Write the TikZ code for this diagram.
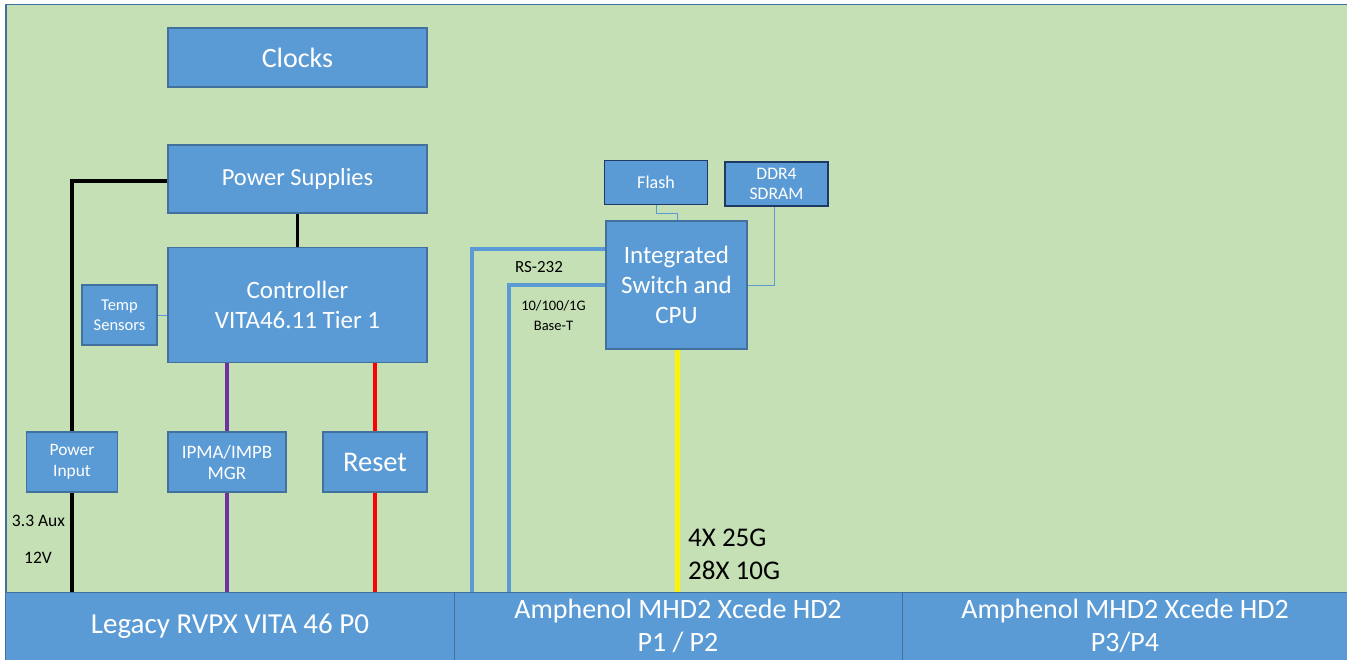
\documentclass[tikz,border=0pt]{standalone}
\usepackage{fontspec}
\setmainfont{Carlito}
\definecolor{bg}{HTML}{C5E0B4}
\definecolor{boxfill}{HTML}{5B9BD5}
\definecolor{boxline}{HTML}{41719C}
\definecolor{darkline}{HTML}{203864}
\definecolor{linkblue}{HTML}{5B9BD5}
\definecolor{ipurple}{HTML}{7030A0}
\newcommand\myfs[2]{\fontsize{#1}{#2}\selectfont}
\tikzset{
  box/.style={draw=boxline, line width=1.2pt, fill=boxfill, text=white, inner sep=0pt, align=center},
  darkbox/.style={box, draw=darkline},
  fs/.style 2 args={font=\myfs{#1}{#2}},
  thinlink/.style={draw=linkblue, line width=0.8pt},
  buslink/.style={draw=linkblue, line width=3.5pt},
  lbl/.style={text=black, inner sep=0pt}
}
\begin{document}
\begin{tikzpicture}[x=1pt,y=-1pt]
\useasboundingbox (0,0) rectangle (1347,660);
% background board
\node[draw=boxline, line width=1.5pt, fill=bg, inner sep=0pt, minimum width=1345pt, minimum height=590pt, anchor=north west] (board) at (5,4) {};
% boxes
\node[box, fs={28}{33}, minimum width=259pt, minimum height=59pt] (clocks) at (297.5,57.5) {Clocks};
\node[box, fs={24.5}{29}, minimum width=259pt, minimum height=68pt] (ps) at (297.5,179) {Power Supplies};
\node[box, fs={25}{30}, minimum width=259pt, minimum height=115pt] (ctrl) at (297.5,305) {Controller\\VITA46.11 Tier 1};
\node[box, fs={16.5}{20}, minimum width=75pt, minimum height=60pt] (temp) at (119.5,315) {Temp\\Sensors};
\node[box, fs={17.4}{21}, minimum width=91pt, minimum height=60pt] (pin) at (72,462) {Power\\Input};
\node[box, fs={19}{21}, minimum width=118pt, minimum height=60pt] (ipma) at (227,462) {IPMA/IMPB\\MGR};
\node[box, fs={28.5}{33}, minimum width=104pt, minimum height=60pt] (reset) at (375,462) {Reset};
\node[darkbox, fs={18}{21}, minimum width=103pt, minimum height=44pt] (flash) at (656,182.5) {Flash};
\node[darkbox, fs={17.6}{20}, minimum width=103pt, minimum height=44pt] (ddr) at (776.5,184) {DDR4\\SDRAM};
\node[box, fs={25}{30}, minimum width=141pt, minimum height=128pt] (cpu) at (676.5,285) {Integrated\\Switch and\\CPU};
% bottom connector bar
\node[box, line width=1pt, fs={29}{33}, minimum width=449pt, minimum height=68pt, anchor=north west] (p0) at (5,592) {Legacy RVPX VITA 46 P0};
\node[box, line width=1pt, minimum width=448pt, minimum height=68pt, anchor=north west] (p12) at (454,592) {};
\node[box, line width=1pt, minimum width=447pt, minimum height=68pt, anchor=north west] (p34) at (902,592) {};
\node[fs={28}{33}, text=white, align=center, inner sep=0pt] (p12t) at (678,626) {Amphenol MHD2 Xcede HD2\\P1 / P2};
\node[fs={28}{33}, text=white, align=center, inner sep=0pt] (p34t) at (1125,626) {Amphenol MHD2 Xcede HD2\\P3/P4};
% connectors
\coordinate (pscorner) at (72,181);
\draw[black, line width=3.5pt] (ps.west |- pscorner) -- (pscorner) -- (pin.north);
\draw[black, line width=3.5pt] (pin.south) -- (pin.south |- p0.north);
\draw[black, line width=3.5pt] (ps.south) -- (ctrl.north);
\draw[thinlink] (temp.east) -- (ctrl.west |- temp.east);
\draw[ipurple, line width=3.5pt] (ctrl.south -| ipma.north) -- (ipma.north);
\draw[ipurple, line width=3.5pt] (ipma.south) -- (ipma.south |- p0.north);
\draw[red, line width=3.5pt] (ctrl.south -| reset.north) -- (reset.north);
\draw[red, line width=3.5pt] (reset.south) -- (reset.south |- p0.north);
% flash / ddr
\coordinate (fl1) at (656,213);
\coordinate (fl2) at (677,213);
\draw[thinlink] (flash.south) -- (fl1) -- (fl2) -- (cpu.north -| fl2);
\coordinate (dd1) at (774,285);
\draw[thinlink] (ddr.south -| dd1) -- (dd1) -- (cpu.east |- dd1);
% rs232 and ethernet
\coordinate (rs) at (472,249);
\coordinate (eth) at (509,285);
\draw[buslink] (cpu.west |- rs) -- (rs) -- (rs |- p0.north);
\draw[buslink] (cpu.west |- eth) -- (eth) -- (eth |- p0.north);
% yellow
\draw[yellow, line width=5pt] (cpu.south -| fl2) -- (fl2 |- p12.north);
% labels
\node[lbl, fs={17.5}{21}] (l33) at (38.5,521) {3.3 Aux};
\node[lbl, fs={17.5}{21}] (l12) at (38,558) {12V};
\node[lbl, fs={17}{20}] (lrs) at (539,267) {RS-232};
\node[lbl, fs={14.5}{20}, align=center] (leth) at (553.5,316) {10/100/1G\\Base-T};
\node[lbl, fs={27}{32}, anchor=west] (l25) at (688,538) {4X 25G};
\node[lbl, fs={27}{32}, anchor=west] (l10) at (688,570) {28X 10G};
\end{tikzpicture}
\end{document}
